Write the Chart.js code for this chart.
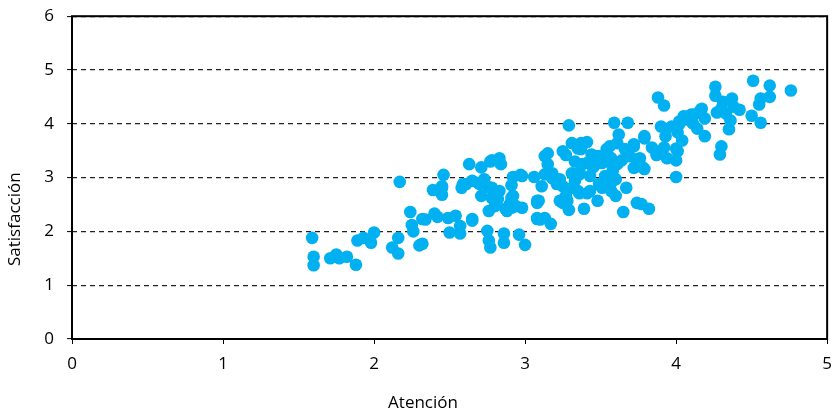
<!DOCTYPE html>
<html>
<head>
<meta charset="utf-8">
<script src="https://cdn.jsdelivr.net/npm/chart.js@4.4.1/dist/chart.umd.min.js"></script>
<style>
  html, body { margin: 0; padding: 0; background: #fff; overflow: hidden; }
  #wrap { width: 842px; height: 422px; margin-top: -7px; }
</style>
</head>
<body>
<div id="wrap"><canvas id="myScatter"></canvas></div>
<script>
// Atención (x) vs Satisfacción (y)
let atencion = [
  1.59, 1.60, 1.60, 1.71, 1.75, 1.77, 1.82, 1.88, 1.89, 1.93, 1.98, 2.00,
  2.12, 2.16, 2.16, 2.17, 2.24, 2.25, 2.26, 2.30, 2.32, 2.34, 2.39, 2.42,
  2.45, 2.46, 2.45, 2.49, 2.50, 2.54, 2.57, 2.58, 2.61, 2.63, 2.65, 2.69,
  2.71, 2.73, 2.75, 2.76, 2.77, 2.76, 2.77, 2.80, 2.82, 2.83, 2.84, 2.86,
  2.86, 2.87, 2.90, 2.91, 2.92, 2.92, 2.93, 2.96, 2.97, 2.98, 3.00, 3.06,
  3.09, 3.10, 3.11, 3.13, 3.13, 3.15, 3.15, 3.17, 3.18, 3.21, 3.23, 3.25,
  3.27, 3.28, 3.29, 3.29, 3.31, 3.33, 3.33, 3.35, 3.36, 3.37, 3.39, 3.41,
  3.41, 3.43, 3.43, 3.45, 3.47, 3.48, 3.49, 3.51, 3.53, 3.54, 3.56, 3.57,
  3.58, 3.59, 3.60, 3.61, 3.62, 3.64, 3.65, 3.66, 3.67, 3.68, 3.69, 3.72,
  3.74, 3.76, 3.77, 3.78, 3.79, 3.82, 3.84, 3.87, 3.88, 3.90, 3.92, 3.92,
  3.93, 3.94, 3.97, 4.00, 4.00, 4.00, 4.01, 4.02, 4.04, 4.06, 4.08, 4.11,
  4.12, 4.14, 4.16, 4.19, 4.19, 4.26, 4.26, 4.27, 4.29, 4.30, 4.31, 4.33,
  4.35, 4.36, 4.37, 4.38, 4.42, 4.50, 4.51, 4.55, 4.56, 4.56, 4.62, 4.62,
  4.76,
  3.13, 3.18, 3.23, 3.25, 3.37, 3.35, 3.38, 3.31, 3.36, 3.44, 3.47, 3.49,
  3.56, 3.57, 3.61, 3.58, 3.54, 3.60, 3.51, 3.57, 3.41, 3.36, 3.31, 3.27,
  3.25, 3.08, 3.08, 3.74, 3.74, 4.01, 3.79, 3.72, 3.74, 3.72, 3.79, 4.02,
  4.05, 4.10, 4.17, 4.30, 2.78, 2.45, 2.59, 2.65, 2.70, 2.71, 2.78, 2.83,
  2.78, 2.76, 2.80, 2.91, 2.91, 2.88, 2.94, 2.98, 3.08, 3.08, 2.32, 2.40,
  2.65, 2.57
];
let satisfaccion = [
  1.88, 1.53, 1.37, 1.50, 1.57, 1.50, 1.53, 1.38, 1.83, 1.88, 1.79, 1.98,
  1.70, 1.59, 1.88, 2.92, 2.36, 2.12, 2.00, 1.74, 1.77, 2.22, 2.77, 2.27,
  2.84, 3.05, 2.68, 2.25, 1.98, 2.29, 1.96, 2.81, 2.88, 3.25, 2.20, 2.90,
  3.19, 2.97, 2.01, 1.83, 1.70, 2.82, 3.30, 2.73, 2.60, 3.36, 3.25, 1.96,
  1.79, 2.42, 2.51, 2.86, 3.01, 2.66, 2.47, 1.94, 3.05, 2.44, 1.75, 3.01,
  2.57, 2.22, 2.84, 3.06, 2.25, 3.25, 3.45, 2.14, 2.99, 2.88, 2.57, 2.84,
  3.42, 2.57, 2.40, 3.97, 3.64, 3.30, 2.94, 2.75, 3.10, 3.53, 2.42, 3.66,
  3.27, 3.03, 2.75, 3.19, 3.40, 2.57, 2.88, 3.27, 3.03, 3.53, 3.38, 2.90,
  3.21, 4.02, 2.66, 3.64, 3.80, 3.32, 2.36, 3.53, 2.81, 4.02, 3.40, 3.58,
  3.21, 3.36, 2.51, 3.19, 3.73, 2.42, 3.56, 3.42, 4.49, 3.95, 4.34, 3.56,
  3.77, 3.36, 3.95, 3.01, 3.32, 3.54, 3.84, 3.99, 3.69, 4.08, 4.14, 4.01,
  4.17, 3.91, 4.25, 4.10, 3.77, 4.69, 4.52, 4.21, 3.43, 3.58, 4.41, 4.19,
  3.90, 4.06, 4.47, 4.32, 4.26, 4.15, 4.80, 4.36, 4.02, 4.47, 4.71, 4.50,
  4.62,
  3.40, 3.08, 2.97, 3.49, 3.64, 3.54, 3.25, 3.08, 3.06, 3.43, 3.25, 3.40,
  3.58, 3.36, 3.25, 3.12, 2.99, 2.97, 2.81, 2.75, 2.71, 2.71, 2.81, 2.66,
  2.53, 2.53, 2.25, 3.25, 2.53, 3.49, 3.77, 3.62, 3.34, 3.18, 3.16, 4.04,
  4.14, 4.17, 4.28, 4.28, 3.32, 2.81, 2.88, 2.94, 2.88, 2.66, 2.81, 2.75,
  2.62, 2.38, 2.47, 2.62, 2.44, 2.38, 2.47, 3.03, 2.57, 2.23, 2.23, 2.33,
  2.23, 2.10
];
let xTicks = [0, 1, 2, 3, 4, 5];
let yTicks = [0, 1, 2, 3, 4, 5, 6];
let xTitle = "Atención";
let yTitle = "Satisfacción";

let points = atencion.map((x, i) => ({x: x, y: satisfaccion[i]}));

const FONT = "'Open Sans', 'DejaVu Sans', sans-serif";

// frame round the plot and the two axis titles
const framePlugin = {
    id: "frame",
    afterDraw(chart) {
        const ctx = chart.ctx;
        const a = chart.chartArea;
        ctx.save();
        ctx.strokeStyle = "#000";
        ctx.lineWidth = 2;
        ctx.strokeRect(a.left, a.top, a.right - a.left, a.bottom - a.top);
        ctx.fillStyle = "#000";
        ctx.font = "17px " + FONT;
        ctx.textAlign = "center";
        ctx.textBaseline = "middle";
        ctx.fillText(xTitle, 423, a.bottom + 64);
        ctx.translate(15, a.top + 203);
        ctx.rotate(-Math.PI / 2);
        ctx.fillText(yTitle, 0, 0);
        ctx.restore();
    }
};

new Chart(document.getElementById("myScatter"), {
    type: "scatter",
    data: {
        datasets: [
            {
                label: "datos",
                data: points,
                backgroundColor: "#00b0f0",
                borderWidth: 0,
                pointRadius: 6.3,
                pointHoverRadius: 6.3
            }
        ]
    },
    options: {
        responsive: true,
        maintainAspectRatio: false,
        animation: false,
        events: [],
        layout: {
            padding: {top: 0, right: 0, left: 0, bottom: 0}
        },
        plugins: {
            legend: {display: false},
            tooltip: {enabled: false}
        },
        scales: {
            x: {
                type: "linear",
                min: 0,
                max: 5,
                afterFit: (s) => { s.height = 76; },
                afterBuildTicks: (s) => { s.ticks = xTicks.map(v => ({value: v})); },
                grid: {
                    drawOnChartArea: false,
                    drawTicks: true,
                    tickLength: 5,
                    tickColor: "#000",
                    tickWidth: 1
                },
                border: {display: false},
                ticks: {
                    color: "#000",
                    padding: 10,
                    maxRotation: 0,
                    font: {family: FONT, size: 17}
                }
            },
            y: {
                type: "linear",
                min: 0,
                max: 6,
                afterFit: (s) => { s.width = 72; },
                afterBuildTicks: (s) => { s.ticks = yTicks.map(v => ({value: v})); },
                grid: {
                    drawOnChartArea: true,
                    drawTicks: true,
                    tickLength: 5,
                    color: "#222",
                    lineWidth: 1.2,
                    tickColor: "#000",
                    tickWidth: 1,
                    tickBorderDash: []
                },
                border: {display: false, dash: [5, 4]},
                ticks: {
                    color: "#000",
                    padding: 13,
                    font: {family: FONT, size: 17}
                }
            }
        }
    },
    plugins: [framePlugin]
});
</script>
</body>
</html>
